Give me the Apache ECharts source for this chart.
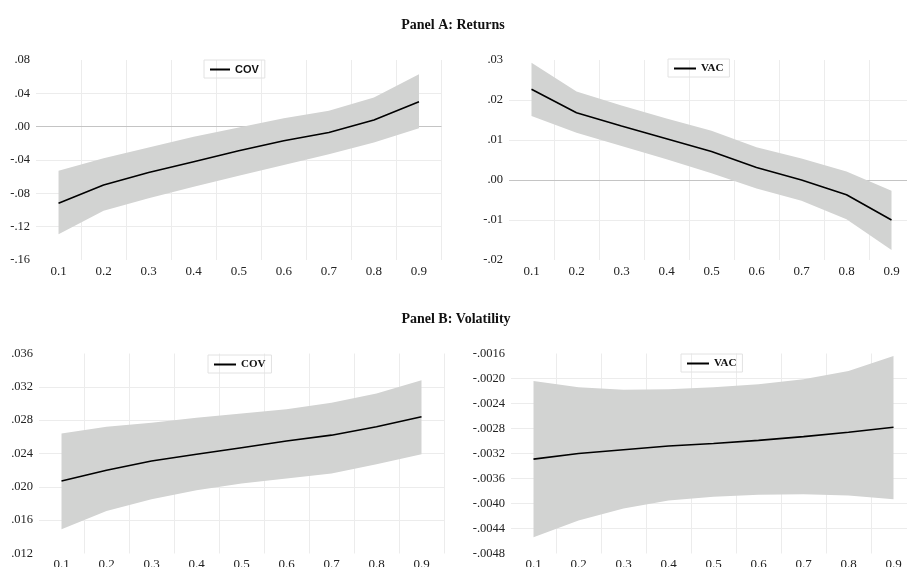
<!DOCTYPE html>
<html>
<head>
<meta charset="utf-8">
<script src="https://cdn.jsdelivr.net/npm/echarts@6/dist/echarts.min.js"></script>
<style>
html,body{margin:0;padding:0;background:#fff;}
#c{width:907px;height:567px;}
</style>
</head>
<body>
<div id="c"></div>
<script>
const categories = ['0.1','0.2','0.3','0.4','0.5','0.6','0.7','0.8','0.9'];

const retCovMid   = [-0.092, -0.070, -0.055, -0.042, -0.029, -0.017, -0.007, 0.008, 0.030];
const retCovUpper = [-0.053, -0.038, -0.025, -0.012, -0.001, 0.010, 0.019, 0.035, 0.063];
const retCovLower = [-0.129, -0.101, -0.086, -0.072, -0.059, -0.046, -0.033, -0.019, -0.002];

const retVacMid   = [0.0227, 0.0168, 0.0135, 0.0103, 0.0071, 0.0031, 0.0000, -0.0037, -0.0100];
const retVacUpper = [0.0293, 0.0221, 0.0186, 0.0154, 0.0123, 0.0082, 0.0054, 0.0021, -0.0027];
const retVacLower = [0.0160, 0.0118, 0.0085, 0.0052, 0.0017, -0.0021, -0.0052, -0.0098, -0.0175];

const volCovMid   = [0.0207, 0.0220, 0.0231, 0.0239, 0.0247, 0.0255, 0.0262, 0.0272, 0.0284];
const volCovUpper = [0.0264, 0.0272, 0.0277, 0.0283, 0.0288, 0.0293, 0.0301, 0.0312, 0.0328];
const volCovLower = [0.0149, 0.0171, 0.0185, 0.0196, 0.0204, 0.0210, 0.0216, 0.0227, 0.0239];

const volVacMid   = [-0.00329, -0.00320, -0.00314, -0.00308, -0.00304, -0.00299, -0.00293, -0.00286, -0.00278];
const volVacUpper = [-0.00204, -0.00214, -0.00218, -0.00217, -0.00214, -0.00209, -0.00201, -0.00188, -0.00164];
const volVacLower = [-0.00454, -0.00427, -0.00408, -0.00395, -0.00389, -0.00386, -0.00385, -0.00387, -0.00393];

const yTicks = [
  {min: -0.16, max: 0.08, interval: 0.04, digits: 2},
  {min: -0.02, max: 0.03, interval: 0.01, digits: 2},
  {min: 0.012, max: 0.036, interval: 0.004, digits: 3},
  {min: -0.0048, max: -0.0016, interval: 0.0004, digits: 4}
];

const panels = [
  {name: 'COV', mid: retCovMid, up: retCovUpper, lo: retCovLower, zero: true},
  {name: 'VAC', mid: retVacMid, up: retVacUpper, lo: retVacLower, zero: true},
  {name: 'COV', mid: volCovMid, up: volCovUpper, lo: volCovLower, zero: false},
  {name: 'VAC', mid: volVacMid, up: volVacUpper, lo: volVacLower, zero: false}
];

const grids = [
  {left: 36, top: 60, width: 405.5, height: 200, outerBoundsMode: 'none'},
  {left: 509, top: 60, width: 405, height: 200, outerBoundsMode: 'none'},
  {left: 39, top: 353.5, width: 405, height: 200, outerBoundsMode: 'none'},
  {left: 511, top: 353.5, width: 405, height: 200, outerBoundsMode: 'none'}
];

const legendPos = [
  {left: 204, top: 60, font: 'Liberation Sans', itemWidth: 20},
  {left: 668, top: 59, font: 'Liberation Serif', itemWidth: 22},
  {left: 208, top: 355, font: 'Liberation Serif', itemWidth: 22},
  {left: 681, top: 354, font: 'Liberation Serif', itemWidth: 22}
];

const serif = 'Liberation Serif';
const gridColor = '#ececec';
const bandColor = '#d2d3d2';

const xAxis = [], yAxis = [], series = [], legend = [];
panels.forEach((p, i) => {
  xAxis.push({
    type: 'category', gridIndex: i, data: categories, boundaryGap: true,
    axisLine: {show: false}, axisTick: {show: false},
    axisLabel: {fontFamily: serif, fontSize: 13, color: '#222', margin: 5},
    splitLine: {show: true, showMinLine: false, lineStyle: {color: gridColor, width: 1}}
  });
  const t = yTicks[i];
  yAxis.push({
    type: 'value', gridIndex: i, min: t.min, max: t.max, interval: t.interval,
    axisLine: {show: false}, axisTick: {show: false},
    axisLabel: {fontFamily: serif, fontSize: 12.5, color: '#222', margin: 6,
      formatter: v => v.toFixed(t.digits).replace('0.', '.')},
    splitLine: {show: true, showMinLine: false, showMaxLine: false, lineStyle: {color: gridColor, width: 1}}
  });
  const stackId = 'band' + i;
  series.push({
    type: 'line', name: 'lower' + i, xAxisIndex: i, yAxisIndex: i,
    data: p.lo, stack: stackId, stackStrategy: 'all',
    showSymbol: false, silent: true, lineStyle: {opacity: 0}, z: 1
  });
  series.push({
    type: 'line', name: 'band' + i, xAxisIndex: i, yAxisIndex: i,
    data: p.up.map((u, k) => u - p.lo[k]), stack: stackId, stackStrategy: 'all',
    showSymbol: false, silent: true, lineStyle: {opacity: 0},
    areaStyle: {color: bandColor, opacity: 1}, z: 1,
    markLine: p.zero ? {
      silent: true, symbol: 'none', label: {show: false},
      lineStyle: {color: '#c4c4c4', type: 'solid', width: 1},
      data: [{yAxis: 0}], z: 0
    } : undefined
  });
  series.push({
    type: 'line', name: p.name, xAxisIndex: i, yAxisIndex: i,
    data: p.mid, showSymbol: false, symbol: 'none',
    lineStyle: {color: '#000', width: 1.6}, itemStyle: {color: '#000'}, z: 3
  });
  const lp = legendPos[i];
  legend.push({
    data: [p.name], left: lp.left, top: lp.top, orient: 'horizontal',
    icon: 'rect', itemWidth: lp.itemWidth, itemHeight: 2,
    padding: [4, 6, 3, 6], borderColor: '#e2e2e2', borderWidth: 1,
    selectedMode: false,
    itemStyle: {color: '#000'},
    textStyle: {fontFamily: lp.font, fontWeight: 'bold', fontSize: 11, color: '#111'}
  });
});

const chart = echarts.init(document.getElementById('c'), null, {renderer: 'canvas'});
chart.setOption({
  backgroundColor: '#fff',
  animation: false,
  title: [
    {text: 'Panel A: Returns', left: 448, top: 13, textAlign: 'center',
      textStyle: {fontFamily: serif, fontWeight: 'bold', fontSize: 14, color: '#111'}},
    {text: 'Panel B: Volatility', left: 451, top: 307, textAlign: 'center',
      textStyle: {fontFamily: serif, fontWeight: 'bold', fontSize: 14, color: '#111'}}
  ],
  grid: grids,
  xAxis: xAxis,
  yAxis: yAxis,
  legend: legend,
  series: series
});
</script>
</body>
</html>
